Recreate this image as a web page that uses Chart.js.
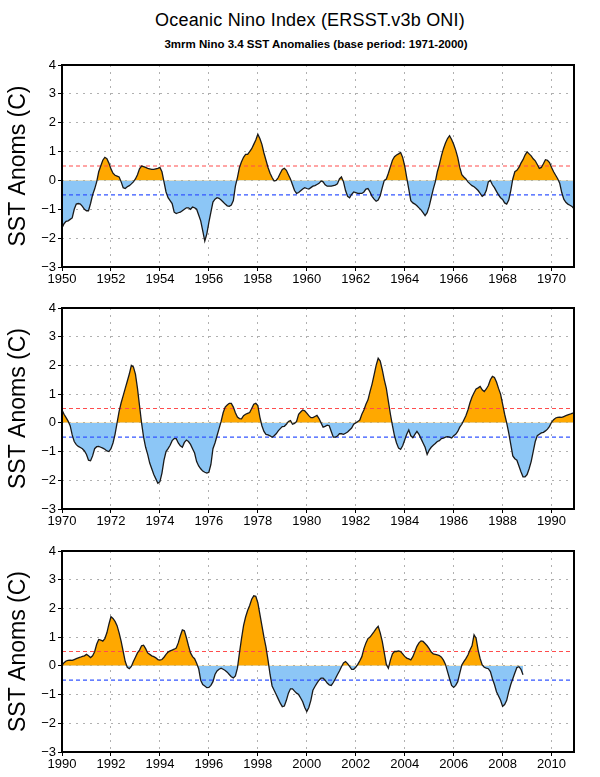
<!DOCTYPE html>
<html>
<head>
<meta charset="utf-8">
<script src="https://cdn.jsdelivr.net/npm/chart.js@4/dist/chart.umd.min.js"></script>
<style>
  html, body { margin: 0; padding: 0; background: #fff; }
  body { width: 600px; height: 777px; position: relative; overflow: hidden; font-family: "Liberation Sans", Arial, sans-serif; }
  .title { position: absolute; left: 20px; width: 580px; text-align: center; color: #000; white-space: nowrap; }
  #t1 { top: 10px; font-size: 18px; letter-spacing: 0.2px; }
  #t2 { top: 38px; font-size: 11.5px; font-weight: bold; left: 32px; width: 568px; }
  .panel { position: absolute; left: 0; width: 600px; }
</style>
</head>
<body>
<div class="title" id="t1">Oceanic Nino Index (ERSST.v3b ONI)</div>
<div class="title" id="t2">3mrm Nino 3.4 SST Anomalies (base period: 1971-2000)</div>
<div class="panel" style="top:55px;height:235px"><canvas id="c0" width="600" height="235"></canvas></div>
<div class="panel" style="top:298px;height:234px"><canvas id="c1" width="600" height="234"></canvas></div>
<div class="panel" style="top:541px;height:234px"><canvas id="c2" width="600" height="234"></canvas></div>
<script>
// Monthly 3-month running mean Nino 3.4 anomalies (DJF centred on Jan ...)
const firstYear = 1950;
const oni1950s = [
  -1.65,-1.5,-1.42,-1.4,-1.35,-1.3,-1.0,-0.82,-0.8,-0.82,-0.9,-1.0,
  -1.05,-1.05,-0.8,-0.5,-0.3,-0.05,0.3,0.5,0.7,0.8,0.75,0.6,
  0.4,0.25,0.18,0.15,0.12,-0.05,-0.25,-0.28,-0.22,-0.18,-0.12,-0.05,
  0.05,0.2,0.4,0.5,0.48,0.45,0.42,0.4,0.38,0.38,0.4,0.42,
  0.45,0.3,-0.05,-0.4,-0.6,-0.7,-0.8,-1.1,-1.15,-1.12,-1.1,-1.05,
  -1.0,-0.95,-0.95,-1.0,-0.92,-0.95,-1.0,-1.2,-1.4,-1.75,-2.1,-1.85,
  -1.45,-1.1,-0.75,-0.65,-0.6,-0.62,-0.68,-0.75,-0.82,-0.88,-0.9,-0.85,
  -0.7,-0.2,0.1,0.45,0.65,0.8,0.9,0.9,1.0,1.1,1.25,1.4,
  1.6,1.45,1.25,0.95,0.7,0.45,0.25,0.1,-0.02,0.0,0.1,0.25,
  0.38,0.42,0.35,0.2,0.05,-0.15,-0.35,-0.45,-0.42,-0.36,-0.3,-0.25
];
const oni1960s = [
  -0.28,-0.3,-0.25,-0.2,-0.18,-0.14,-0.1,-0.02,-0.05,-0.15,-0.2,-0.2,
  -0.2,-0.18,-0.16,-0.12,0.05,0.12,-0.05,-0.35,-0.55,-0.6,-0.48,-0.4,
  -0.42,-0.45,-0.45,-0.45,-0.4,-0.3,-0.28,-0.4,-0.55,-0.65,-0.72,-0.68,
  -0.53,-0.25,0.0,0.05,0.25,0.48,0.7,0.82,0.88,0.92,0.97,0.8,
  0.5,0.1,-0.3,-0.7,-0.78,-0.82,-0.88,-0.95,-1.02,-1.12,-1.22,-1.12,
  -0.9,-0.6,-0.3,-0.05,0.3,0.55,0.85,1.1,1.3,1.45,1.55,1.42,
  1.25,1.05,0.8,0.45,0.2,0.12,0.05,-0.05,-0.12,-0.18,-0.22,-0.28,
  -0.35,-0.45,-0.55,-0.5,-0.35,-0.05,0.0,-0.15,-0.25,-0.38,-0.5,-0.6,
  -0.66,-0.78,-0.82,-0.68,-0.35,0.05,0.3,0.35,0.45,0.6,0.72,0.88,
  0.99,0.92,0.85,0.75,0.68,0.55,0.42,0.45,0.58,0.72,0.7,0.62
];
const oni1970s = [
  0.45,0.3,0.18,0.06,-0.1,-0.42,-0.65,-0.76,-0.82,-0.86,-0.9,-0.98,
  -1.1,-1.3,-1.32,-1.15,-0.9,-0.83,-0.82,-0.85,-0.88,-0.92,-0.98,-1.0,
  -0.9,-0.7,-0.4,0.0,0.4,0.7,0.95,1.2,1.45,1.7,2.0,1.95,
  1.7,1.2,0.6,0.0,-0.5,-0.85,-1.1,-1.4,-1.6,-1.8,-1.95,-2.1,
  -2.05,-1.75,-1.3,-1.0,-0.9,-0.78,-0.62,-0.55,-0.55,-0.7,-0.8,-0.85,
  -0.68,-0.6,-0.65,-0.75,-0.9,-1.05,-1.35,-1.5,-1.6,-1.68,-1.72,-1.75,
  -1.72,-1.45,-0.9,-0.7,-0.45,-0.2,0.05,0.35,0.55,0.62,0.68,0.68,
  0.55,0.35,0.2,0.15,0.14,0.25,0.3,0.33,0.36,0.5,0.65,0.68,
  0.6,0.2,-0.1,-0.3,-0.4,-0.42,-0.45,-0.5,-0.45,-0.38,-0.28,-0.2,
  -0.13,-0.12,-0.05,0.05,0.08,-0.05,-0.02,0.05,0.3,0.38,0.45,0.42
];
const oni1980s = [
  0.34,0.25,0.18,0.18,0.22,0.26,0.15,0.0,-0.15,-0.12,-0.08,-0.1,
  -0.3,-0.5,-0.5,-0.46,-0.38,-0.38,-0.4,-0.36,-0.32,-0.25,-0.18,-0.05,
  0.0,0.05,0.1,0.3,0.45,0.65,0.8,1.09,1.35,1.67,2.0,2.25,
  2.15,1.85,1.5,1.2,0.75,0.3,-0.1,-0.45,-0.7,-0.88,-0.92,-0.8,
  -0.6,-0.4,-0.25,-0.45,-0.52,-0.4,-0.3,-0.4,-0.55,-0.7,-0.85,-1.1,
  -0.95,-0.85,-0.78,-0.72,-0.65,-0.62,-0.55,-0.53,-0.5,-0.48,-0.5,-0.53,
  -0.45,-0.4,-0.3,-0.15,-0.05,0.1,0.25,0.45,0.7,0.9,1.05,1.18,
  1.22,1.27,1.15,1.09,1.18,1.3,1.5,1.62,1.58,1.42,1.2,1.0,
  0.65,0.3,0.0,-0.35,-0.75,-1.15,-1.25,-1.3,-1.5,-1.7,-1.88,-1.88,
  -1.8,-1.6,-1.35,-1.0,-0.65,-0.45,-0.4,-0.35,-0.33,-0.28,-0.22,-0.12
];
const oni1990s = [
  0.02,0.11,0.17,0.19,0.2,0.19,0.22,0.25,0.28,0.3,0.33,0.35,
  0.4,0.35,0.29,0.35,0.49,0.75,0.92,0.9,0.86,0.95,1.15,1.45,
  1.71,1.65,1.55,1.4,1.15,0.85,0.5,0.15,-0.05,-0.1,-0.02,0.15,
  0.3,0.45,0.55,0.7,0.72,0.6,0.45,0.4,0.35,0.32,0.28,0.22,
  0.2,0.22,0.3,0.4,0.48,0.52,0.55,0.58,0.62,0.8,1.05,1.25,
  1.22,0.98,0.7,0.45,0.32,0.25,0.09,-0.1,-0.5,-0.65,-0.7,-0.76,
  -0.75,-0.68,-0.55,-0.3,-0.18,-0.12,-0.08,-0.12,-0.16,-0.22,-0.3,-0.38,
  -0.42,-0.35,-0.08,0.45,0.95,1.4,1.7,1.93,2.1,2.32,2.44,2.42,
  2.2,1.8,1.4,1.0,0.65,0.2,-0.3,-0.7,-0.85,-1.0,-1.15,-1.3,
  -1.42,-1.4,-1.2,-0.95,-0.8,-0.8,-0.88,-0.95,-1.0,-1.12,-1.25,-1.45
];
const oni2000s = [
  -1.59,-1.45,-1.2,-0.85,-0.72,-0.6,-0.5,-0.43,-0.43,-0.5,-0.6,-0.66,
  -0.68,-0.58,-0.45,-0.31,-0.18,-0.03,0.1,0.15,0.08,-0.02,-0.12,-0.12,
  -0.05,0.05,0.18,0.32,0.6,0.8,0.95,1.0,1.1,1.19,1.3,1.38,
  1.15,0.85,0.45,0.05,-0.08,0.2,0.42,0.5,0.5,0.52,0.5,0.42,
  0.33,0.27,0.24,0.21,0.32,0.5,0.68,0.8,0.87,0.85,0.78,0.7,
  0.6,0.48,0.42,0.4,0.38,0.36,0.3,0.2,0.05,-0.2,-0.45,-0.68,
  -0.75,-0.68,-0.55,-0.25,0.03,0.15,0.25,0.38,0.55,0.7,1.08,0.96,
  0.55,0.25,0.03,-0.05,-0.08,-0.1,-0.2,-0.45,-0.65,-0.9,-1.05,-1.2,
  -1.41,-1.35,-1.2,-0.9,-0.65,-0.45,-0.25,-0.06,-0.03,-0.12,-0.31
];
const panelStartYears = [1950, 1970, 1990];
const panelSpanYears = 20 + 11 / 12;
const yTicks = [-3, -2, -1, 0, 1, 2, 3, 4];
const elNinoThreshold = 0.5;
const laNinaThreshold = -0.5;
const yTitle = 'SST Anoms (C)';

const oniAll = [].concat(oni1950s, oni1960s, oni1970s, oni1980s, oni1990s, oni2000s);
const oniPoints = oniAll.map((v, i) => ({ x: firstYear + i / 12, y: v }));

const FONT = '"Liberation Sans", Arial, sans-serif';
const framePlugin = {
  id: 'frame',
  afterDraw(chart) {
    const { ctx, chartArea: { left, top, right, bottom } } = chart;
    ctx.save();
    ctx.strokeStyle = '#000';
    ctx.lineWidth = 2;
    ctx.strokeRect(left, top, right - left, bottom - top);
    ctx.restore();
  }
};

panelStartYears.forEach((start, idx) => {
  const xmin = start, xmax = start + panelSpanYears;
  const pts = oniPoints.filter(p => p.x >= xmin - 1e-6 && p.x <= xmax + 1e-6);
  new Chart(document.getElementById('c' + idx), {
    type: 'line',
    data: {
      datasets: [
        {
          data: pts,
          borderColor: '#1a1a1a',
          borderWidth: 1.3,
          pointRadius: 0,
          tension: 0,
          fill: { target: { value: 0 }, above: '#FFA800', below: '#8CC6F6' },
          order: 0
        },
        {
          data: [{ x: xmin, y: elNinoThreshold }, { x: xmax, y: elNinoThreshold }],
          borderColor: '#FF4D4D',
          borderWidth: 1.2,
          borderDash: [4, 3],
          pointRadius: 0,
          fill: false,
          order: 1
        },
        {
          data: [{ x: xmin, y: laNinaThreshold }, { x: xmax, y: laNinaThreshold }],
          borderColor: '#3355FF',
          borderWidth: 1.2,
          borderDash: [4, 3],
          pointRadius: 0,
          fill: false,
          order: 1
        }
      ]
    },
    options: {
      responsive: false,
      animation: false,
      events: [],
      layout: { padding: { top: 10, right: 26, left: 0, bottom: 0 } },
      plugins: {
        legend: { display: false },
        tooltip: { enabled: false },
        filler: { drawTime: 'beforeDatasetsDraw' }
      },
      scales: {
        x: {
          type: 'linear',
          min: xmin,
          max: xmax,
          afterFit: s => { s.height = 23; },
          afterBuildTicks: s => {
            const t = [];
            for (let y = start; y <= xmax; y += 2) t.push({ value: y });
            s.ticks = t;
          },
          ticks: {
            autoSkip: false,
            maxRotation: 0,
            padding: 1,
            color: '#000',
            font: { family: FONT, size: 13 },
            callback: v => String(v)
          },
          grid: {
            color: '#b0b0b0',
            lineWidth: 1,
            tickColor: '#000',
            tickLength: 4,
            tickBorderDash: []
          },
          border: { display: false, dash: [2, 5] }
        },
        y: {
          min: -3,
          max: 4,
          afterFit: s => { s.width = 62; },
          afterBuildTicks: s => { s.ticks = yTicks.map(v => ({ value: v })); },
          ticks: {
            padding: 2,
            color: '#000',
            font: { family: FONT, size: 13 },
            callback: v => (v < 0 ? '\u2212' + Math.abs(v) : String(v))
          },
          grid: {
            color: '#b0b0b0',
            lineWidth: 1,
            tickColor: '#000',
            tickLength: 4,
            tickBorderDash: []
          },
          border: { display: false, dash: [2, 5] },
          title: {
            display: true,
            text: yTitle,
            color: '#000',
            font: { family: FONT, size: 23 },
            padding: { top: 5, bottom: 0 }
          }
        }
      }
    },
    plugins: [framePlugin]
  });
});
</script>
</body>
</html>
